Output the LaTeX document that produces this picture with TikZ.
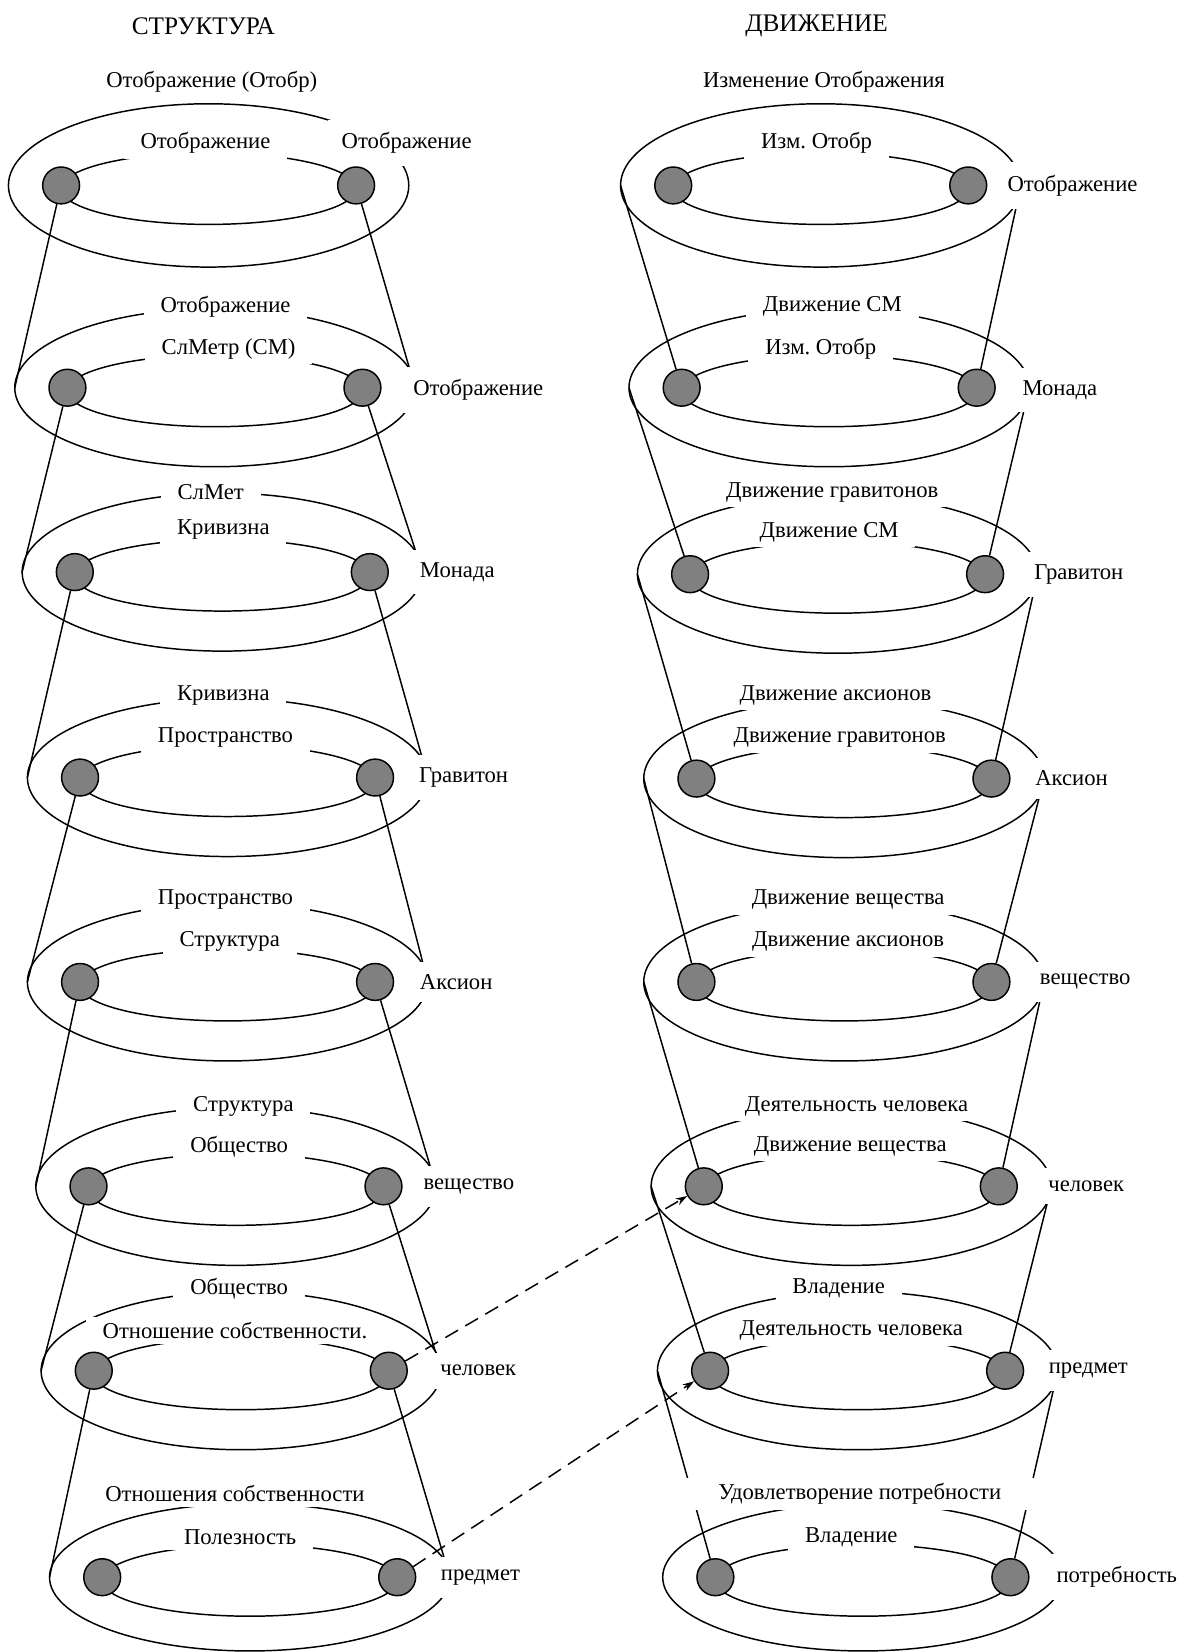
\documentclass[tikz,border=0pt]{standalone}
\usepackage{fontspec}
\setmainfont{Liberation Serif}
\frenchspacing
\usetikzlibrary{shapes,arrows.meta}

\begin{document}
\begin{tikzpicture}[x=1pt, y=-1pt, line width=1.4pt,
    font=\fontsize{21.5}{25}\selectfont,
    ring/.style={ellipse, draw, inner sep=0pt, outer sep=0pt},
    dot/.style={circle, draw, fill=gray, minimum size=35pt, inner sep=0pt},
    lbl/.style={fill=white, inner xsep=16pt, inner ysep=5pt},
    side/.style={fill=white, inner xsep=13pt, inner ysep=12pt},
    link/.style={dash pattern=on 14pt off 8pt, -{Stealth[length=11pt, width=7pt]}}]
    \useasboundingbox (0,0) rectangle (1138,1568);

    % Left rings
    \foreach \n/\y/\x/\h in {1/176/58/155pt, 2/368/64/150pt, 3/543/71/150pt, 4/738/76/150pt, 5/932/76/150pt, 6/1126/84/150pt, 7/1301/89/150pt, 8/1497/97/140pt} {
        \node[ring, minimum width=380pt, minimum height=\h] (Lo\n) at (\x+140, \y) {};
        \node[ring, minimum width=280pt, minimum height=68pt] (Li\n) at (\x+140, \y+3) {};
        \node[dot] (La\n) at (\x, \y) {};
        \node[dot] (Lb\n) at (\x+280, \y) {};
    }

    % Right rings
    \foreach \n/\y/\x/\h in {1/176/639/155pt, 2/368/647/150pt, 3/545/655/150pt, 4/739/661/150pt, 5/932/661/150pt, 6/1126/668/150pt, 7/1301/674/150pt, 8/1497/679/140pt} {
        \node[ring, minimum width=380pt, minimum height=\h] (Ro\n) at (\x+140, \y) {};
        \node[ring, minimum width=280pt, minimum height=68pt] (Ri\n) at (\x+140, \y+3) {};
        \node[dot] (Ra\n) at (\x, \y) {};
        \node[dot] (Rb\n) at (\x+280, \y) {};
    }

    % Cones
    \foreach \n/\m in {1/2, 2/3, 3/4, 4/5, 5/6, 6/7, 7/8} {
        \draw (La\n) -- (Lo\m.west);
        \draw (Lb\n) -- (Lo\m.east);
        \draw (Ro\n.west) -- (Ra\m);
        \draw (Ro\n.east) -- (Rb\m);
    }

    % Titles
    \node[font=\fontsize{24}{28}\selectfont] (Lhead) at (193,25) {СТРУКТУРА};
    \node[font=\fontsize{24}{28}\selectfont] (Rhead) at (775,25) {ДВИЖЕНИЕ};

    % Left labels
    \foreach \n/\x/\y/\t in {1/201/78/{Отображение (Отобр)}, 2/214/291/Отображение, 3/200/467/СлМет, 4/212/660/Кривизна, 5/214/854/Пространство, 6/231/1050/Структура, 7/227/1223/Общество, 8/223/1418/{Отношения собственности}}
        \node[lbl] (Lt\n) at (\x,\y) {\t};
    \foreach \n/\x/\y/\t in {1/195/136/Отображение, 2/217/331/{СлМетр (СМ)}, 3/212/503/Кривизна, 4/214/700/Пространство, 5/218/894/Структура, 6/227/1088/Общество, 7/223/1263/{Отношение собственности.}, 8/228/1459/Полезность}
        \node[lbl] (Lm\n) at (\x,\y) {\t};
    \foreach \n/\x/\y/\t in {1/386/136/Отображение, 2/454/370/Отображение, 3/434/543/Монада, 4/440/738/Гравитон, 5/433/932/Аксион, 6/445/1126/вещество, 7/454/1301/человек, 8/456/1497/предмет}
        \node[side] (Ls\n) at (\x,\y) {\t};

    % Right labels
    \foreach \n/\x/\y/\w/\t in {1/782/78/16pt/{Изменение Отображения}, 2/790/291/16pt/{Движение СМ}, 3/790/467/16pt/{Движение гравитонов}, 4/793/660/16pt/{Движение аксионов}, 5/805/854/16pt/{Движение вещества}, 6/813/1050/16pt/{Деятельность человека}, 7/796/1223/16pt/Владение, 8/816/1418/34pt/{Удовлетворение потребности}}
        \node[lbl, inner xsep=\w] (Rt\n) at (\x,\y) {\t};
    \foreach \n/\x/\y/\t in {1/775/136/{Изм. Отобр}, 2/779/331/{Изм. Отобр}, 3/787/505/{Движение СМ}, 4/797/700/{Движение гравитонов}, 5/805/894/{Движение аксионов}, 6/807/1088/{Движение вещества}, 7/808/1263/{Деятельность человека}, 8/808/1459/Владение}
        \node[lbl] (Rm\n) at (\x,\y) {\t};
    \foreach \n/\x/\y/\t in {1/1018/176/Отображение, 2/1006/370/Монада, 3/1024/545/Гравитон, 4/1017/739/Аксион, 5/1030/932/вещество, 6/1031/1126/человек, 7/1033/1301/предмет, 8/1060/1497/потребность}
        \node[side] (Rs\n) at (\x,\y) {\t};

    % Links
    \draw[link] (Lb7) -- (Ra6);
    \draw[link] (Lb8) -- (Ra7);
\end{tikzpicture}
\end{document}
